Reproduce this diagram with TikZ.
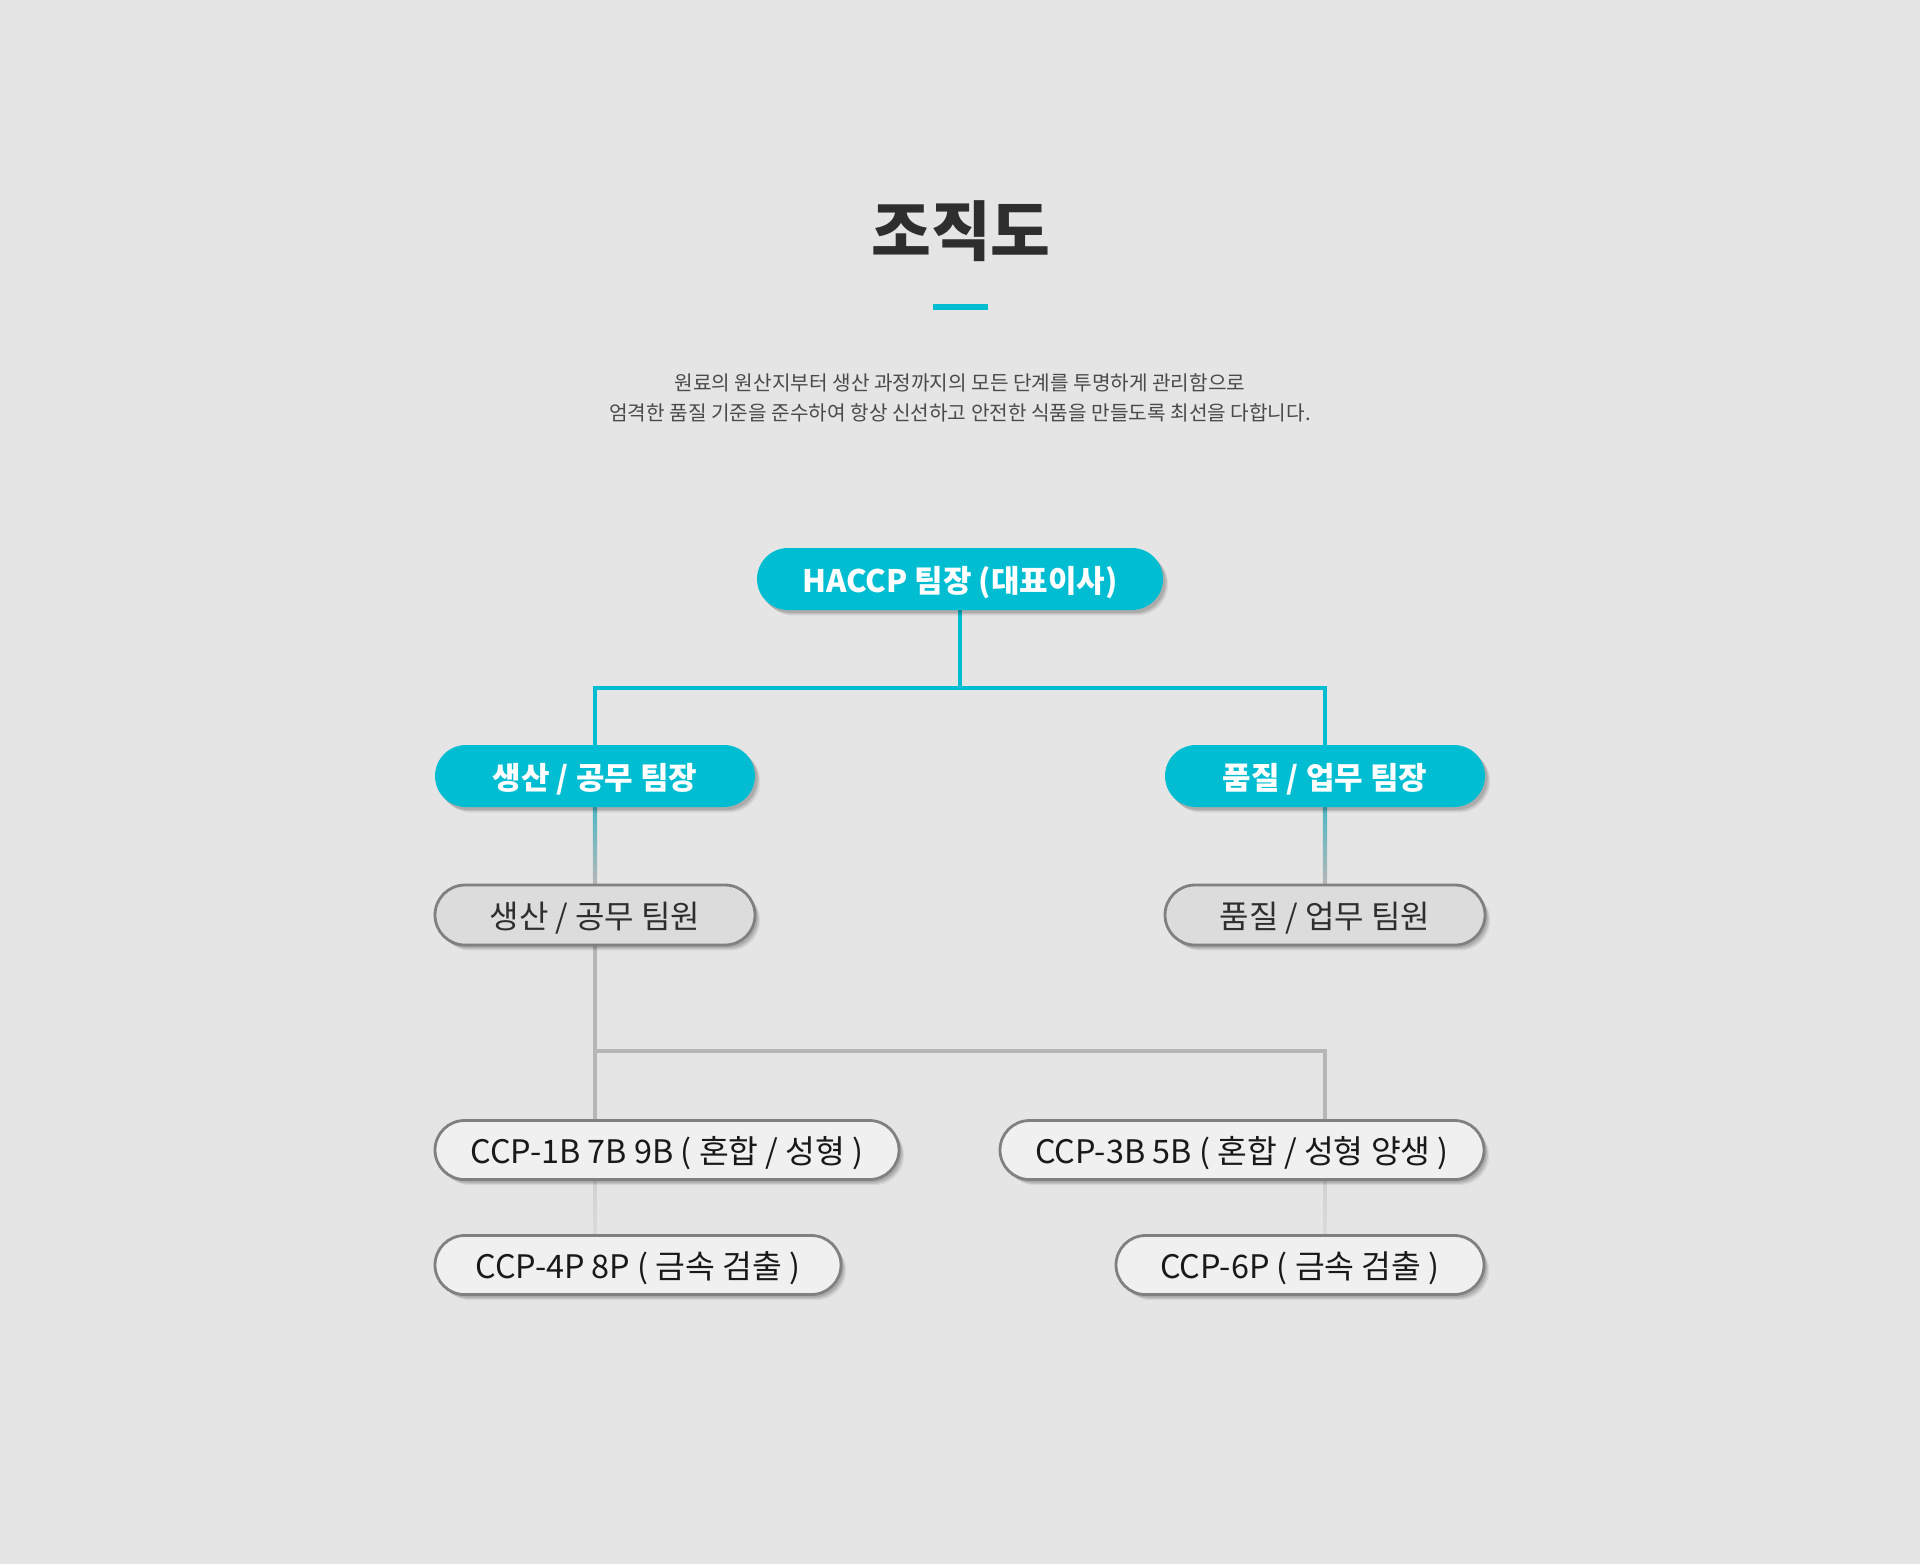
\documentclass[tikz,border=0pt]{standalone}
\usepackage{fontspec}
\setmainfont{Noto Sans CJK KR}
\usetikzlibrary{shadows,calc}
\definecolor{bgc}{HTML}{E5E5E5}
\definecolor{cy}{HTML}{00BDD2}
\definecolor{cymute}{HTML}{4DB9C6}
\definecolor{titlec}{HTML}{2E2E2E}
\definecolor{parac}{HTML}{4A4A4A}
\definecolor{memfill}{HTML}{DCDCDC}
\definecolor{ccpfill}{HTML}{F0F0F0}
\definecolor{bord}{HTML}{808080}
\definecolor{gline}{HTML}{B6B6B6}
\definecolor{fline}{HTML}{D2D2D2}
\pgfdeclarelayer{back}
\pgfdeclarelayer{links}
\pgfsetlayers{back,links,main}
\newcommand\lbl[1]{\raisebox{-1.6pt}[\height][\depth]{#1}}
\tikzset{
  softshadow/.style={
    drop shadow={shadow xshift=2.6pt, shadow yshift=-2.8pt, fill=black, opacity=0.06},
    drop shadow={shadow xshift=2pt, shadow yshift=-2.2pt, fill=black, opacity=0.09},
    drop shadow={shadow xshift=1.3pt, shadow yshift=-1.5pt, fill=black, opacity=0.12}},
  lead/.style={rounded corners=15.5pt, fill=cy, text=white, inner sep=0pt,
    minimum height=31pt, font=\bfseries\fontsize{15.5}{19}\selectfont, softshadow},
  member/.style={rounded corners=15pt, fill=memfill, draw=bord, line width=1.4pt,
    text=titlec, inner sep=0pt, minimum height=30pt,
    font=\fontsize{16}{19}\selectfont, softshadow},
  ccp/.style={rounded corners=14.75pt, fill=ccpfill, draw=bord, line width=1.4pt,
    text=black!90, inner sep=0pt, minimum height=29.5pt,
    font=\fontsize{16.2}{19}\selectfont, softshadow},
  cyline/.style={draw=cy, line width=2.2pt},
  grline/.style={draw=gline, line width=1.8pt},
}
\begin{document}
\begin{tikzpicture}[x=0.5pt,y=-0.5pt]
\begin{pgfonlayer}{back}
  \fill[bgc] (0,0) rectangle (1920,1564);
\end{pgfonlayer}
\useasboundingbox (0,0) rectangle (1920,1564);

\node[text=titlec, font=\bfseries\fontsize{32.5}{38}\selectfont] (title) at (961,231) {조직도};
\fill[cy] (933,304) rectangle (988,310);
\node[text=parac, font=\fontsize{10.1}{15}\selectfont, align=center] (para) at (960,398)
  {원료의 원산지부터 생산 과정까지의 모든 단계를 투명하게 관리함으로\\
   엄격한 품질 기준을 준수하여 항상 신선하고 안전한 식품을 만들도록 최선을 다합니다.};

\node[lead, minimum width=203pt] (top) at (960,579) {\lbl{HACCP 팀장 (대표이사)}};
\node[lead, minimum width=160pt] (l2a) at (595,776) {\lbl{생산 / 공무 팀장}};
\node[lead, minimum width=160pt] (l2b) at (1325,776) {\lbl{품질 / 업무 팀장}};
\node[member, minimum width=160pt] (l3a) at (595,915) {\lbl{생산 / 공무 팀원}};
\node[member, minimum width=160pt] (l3b) at (1325,915) {\lbl{품질 / 업무 팀원}};
\node[ccp, minimum width=232pt] (l4a) at (667,1150) {\lbl{CCP-1B 7B 9B ( 혼합 / 성형 )}};
\node[ccp, minimum width=242pt] (l4b) at (1242,1150) {\lbl{CCP-3B 5B ( 혼합 / 성형 양생 )}};
\node[ccp, minimum width=203pt] (l5a) at (638,1265) {\lbl{CCP-4P 8P ( 금속 검출 )}};
\node[ccp, minimum width=184pt] (l5b) at (1300,1265) {\lbl{CCP-6P ( 금속 검출 )}};

\coordinate (j1) at (960,688);
\coordinate (j2) at (595,1051);
\begin{pgfonlayer}{links}
  \draw[cyline] (top.south) -- (j1);
  \draw[cyline] (l2a.north) |- (j1) -| (l2b.north);
  \shade[top color=cymute, bottom color=gline] ($(l2a.south)+(-2.2,0)$) rectangle ($(l3a.north)+(2.2,0)$);
  \shade[top color=cymute, bottom color=gline] ($(l2b.south)+(-2.2,0)$) rectangle ($(l3b.north)+(2.2,0)$);
  \draw[grline] (l3a.south) -- (l3a.south |- l4a.north);
  \draw[grline] (j2) -| (l3b.south |- l4b.north);
  \shade[top color=fline, bottom color=bgc!95!black] ($(l3a.south |- l4a.south)+(-1.5,0)$) rectangle ($(l3a.south |- l5a.north)+(1.5,0)$);
  \shade[top color=fline, bottom color=bgc!95!black] ($(l3b.south |- l4b.south)+(-1.5,0)$) rectangle ($(l3b.south |- l5b.north)+(1.5,0)$);
\end{pgfonlayer}
\end{tikzpicture}
\end{document}
